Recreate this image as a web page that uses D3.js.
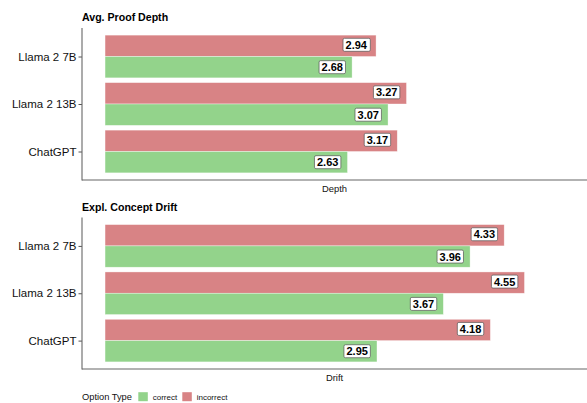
<!DOCTYPE html>
<html><head><meta charset="utf-8">
<script src="https://cdn.jsdelivr.net/npm/d3@7"></script>
<style>body{margin:0;background:#fff}svg{display:block;font-family:"Liberation Sans",Arial,Helvetica,sans-serif}</style>
</head><body>
<script>
const models = ["Llama 2 7B", "Llama 2 13B", "ChatGPT"];
const optionTypes = ["correct", "incorrect"];
const panels = ["Avg. Proof Depth", "Expl. Concept Drift"];
const axisTitles = ["Depth", "Drift"];
const depthCorrect = [2.68, 3.07, 2.63];
const depthIncorrect = [2.94, 3.27, 3.17];
const driftCorrect = [3.96, 3.67, 2.95];
const driftIncorrect = [4.33, 4.55, 4.18];

const colors = {correct: "#93d38b", incorrect: "#d88385"};
const W = 587, H = 403;
const svg = d3.select("body").append("svg").attr("width", W).attr("height", H);

const x = d3.scaleLinear().domain([-0.25, 5.25]).range([82, 589]);
const panelData = [
  {title: panels[0], axis: axisTitles[0], correct: depthCorrect, incorrect: depthIncorrect, top: 28, bottom: 180},
  {title: panels[1], axis: axisTitles[1], correct: driftCorrect, incorrect: driftIncorrect, top: 217.5, bottom: 369}
];

panelData.forEach(p => {
  const g = svg.append("g");
  const yc = d3.scaleLinear().domain([0.4, 3.6]).range([p.top, p.bottom]);
  const unit = yc(1) - yc(0);
  const rows = [];
  models.forEach((m, i) => {
    rows.push({m, i, type: "incorrect", v: p.incorrect[i], y0: i + 1 - 0.45, y1: i + 1});
    rows.push({m, i, type: "correct", v: p.correct[i], y0: i + 1, y1: i + 1.45});
  });
  g.selectAll("rect.bar").data(rows).join("rect").attr("class", "bar")
    .attr("x", x(0)).attr("width", d => x(d.v) - x(0))
    .attr("y", d => yc(d.y0)).attr("height", d => yc(d.y1) - yc(d.y0))
    .attr("fill", d => colors[d.type]).attr("stroke", "#fff").attr("stroke-opacity", 0.6).attr("stroke-width", 0.6);

  // labels
  const lg = g.selectAll("g.lab").data(rows).join("g").attr("class", "lab")
    .attr("transform", d => `translate(${x(d.v - 0.215)},${(yc(d.y0) + yc(d.y1)) / 2 + (d.type === "incorrect" ? -1 : 0)})`);
  lg.append("text").text(d => d.v.toFixed(2))
    .attr("text-anchor", "middle").attr("dy", "0.36em")
    .attr("font-size", 11).attr("font-weight", "bold").attr("fill", "#000");
  lg.each(function() {
    const t = d3.select(this).select("text").node().getBBox();
    d3.select(this).insert("rect", "text")
      .attr("x", t.x - 2.5).attr("y", -6.5).attr("width", t.width + 5).attr("height", 13)
      .attr("rx", 1.5).attr("fill", "#fff").attr("stroke", "#555").attr("stroke-width", 0.7);
  });

  // axes
  const yAxis = d3.axisLeft(d3.scaleLinear().domain([0.4, 3.6]).range([p.top, p.bottom]))
    .tickValues([1, 2, 3]).tickFormat(d => models[d - 1]).tickSize(3.5).tickPadding(2);
  const ya = g.append("g").attr("transform", "translate(82,0)").call(yAxis);
  ya.select(".domain").remove();
  ya.selectAll(".tick line").attr("stroke", "#555").attr("stroke-width", 1);
  ya.selectAll(".tick text").attr("font-size", 11.5).attr("fill", "#111").attr("font-family", "Liberation Sans, Arial, sans-serif");
  g.append("line").attr("x1", 82).attr("x2", 82).attr("y1", p.top).attr("y2", p.bottom + 0.5).attr("stroke", "#666").attr("stroke-width", 1.1);
  g.append("line").attr("x1", 82).attr("x2", W).attr("y1", p.bottom).attr("y2", p.bottom).attr("stroke", "#666").attr("stroke-width", 1.1);

  g.append("text").text(p.title).attr("x", 82).attr("y", p.top - 7).attr("font-size", 10.6).attr("font-weight", "bold").attr("fill", "#000");
  g.append("text").text(p.axis).attr("x", (82 + W) / 2).attr("y", p.bottom + 11.8).attr("text-anchor", "middle").attr("font-size", 9.4).attr("fill", "#111");
});

// legend
const leg = svg.append("g");
leg.append("text").text("Option Type").attr("x", 82).attr("y", 400).attr("font-size", 9.3).attr("fill", "#111");
const keyX = [138.3, 182.3];
optionTypes.forEach((t, i) => {
  leg.append("rect").attr("x", keyX[i]).attr("y", 392.2).attr("width", 9.5).attr("height", 9).attr("fill", colors[t]);
  leg.append("text").text(t).attr("x", keyX[i] + 14.4).attr("y", 399.6).attr("font-size", 8).attr("fill", "#111");
});
</script>
</body></html>
